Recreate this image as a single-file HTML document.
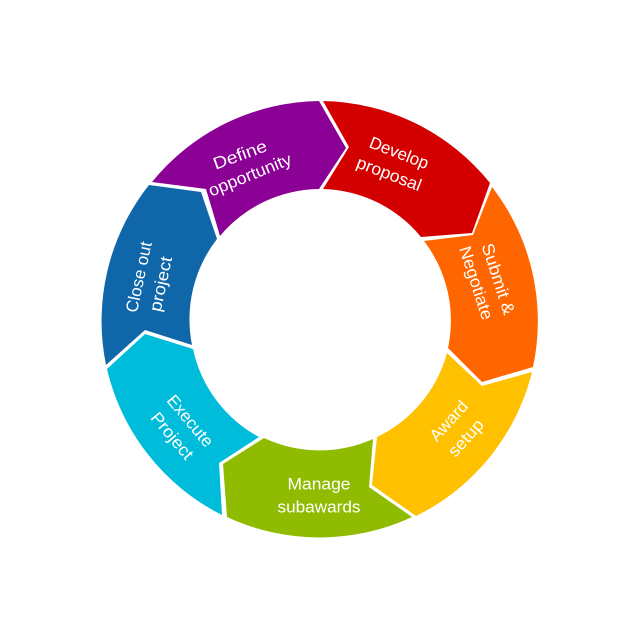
<!DOCTYPE html>
<html><head><meta charset="utf-8"><style>html,body{margin:0;padding:0;background:#fff}svg{display:block}text{font-family:"Liberation Sans",sans-serif;font-size:17px;fill:#fff;text-anchor:middle;dominant-baseline:central}</style></head><body>
<svg width="640" height="640" viewBox="0 0 640 640" xmlns="http://www.w3.org/2000/svg">
<rect width="640" height="640" fill="#fff"/>
<path fill="#8B0095" d="M152,182 A219,219 0 0 1 319,101 L346,148 L319,189 A131,131 0 0 0 220,236 L206,189 Z"/>
<path fill="#D40000" d="M323,101 A219,219 0 0 1 490,183 L472,233 L421,237 A131,131 0 0 0 323,189 L349,147 Z"/>
<path fill="#FF6600" d="M492,187 A219,219 0 0 1 533,367 L482,382 L448,348 A131,131 0 0 0 424,241 L473,235 Z"/>
<path fill="#FFC000" d="M532,372 A219,219 0 0 1 416,516 L372,485 L377,437 A131,131 0 0 0 447,353 L482,386 Z"/>
<path fill="#8FBC00" d="M412,517 A219,219 0 0 1 227,517 L223,464 L264,438 A131,131 0 0 0 373,439 L369,487 Z"/>
<path fill="#00BCDB" d="M222,515 A219,219 0 0 1 107,369 L145,334 L193,349 A131,131 0 0 0 259,437 L219,463 Z"/>
<path fill="#0F66A8" d="M149,185 L201,192 L217,239 A131,131 0 0 0 192,345 L145,330 L106,365 A219,219 0 0 1 149,185 Z"/>
<text transform="translate(240,155) rotate(-20)" textLength="56" lengthAdjust="spacingAndGlyphs">Define</text>
<text transform="translate(250,175) rotate(-22)" textLength="88" lengthAdjust="spacingAndGlyphs">opportunity</text>
<text transform="translate(399,153) rotate(21)" textLength="62" lengthAdjust="spacingAndGlyphs">Develop</text>
<text transform="translate(389,174) rotate(21)" textLength="68" lengthAdjust="spacingAndGlyphs">proposal</text>
<text transform="translate(498,279) rotate(72)" textLength="74" lengthAdjust="spacingAndGlyphs">Submit &amp;</text>
<text transform="translate(476,283) rotate(72)" textLength="76" lengthAdjust="spacingAndGlyphs">Negotiate</text>
<text transform="translate(449,421) rotate(-48)" textLength="48" lengthAdjust="spacingAndGlyphs">Award</text>
<text transform="translate(466,438) rotate(-48)" textLength="44" lengthAdjust="spacingAndGlyphs">setup</text>
<text x="319" y="484" textLength="63" lengthAdjust="spacingAndGlyphs">Manage</text>
<text x="319" y="507" textLength="83" lengthAdjust="spacingAndGlyphs">subawards</text>
<text transform="translate(190,421) rotate(50)" textLength="62" lengthAdjust="spacingAndGlyphs">Execute</text>
<text transform="translate(172,436) rotate(50)" textLength="56" lengthAdjust="spacingAndGlyphs">Project</text>
<text transform="translate(139,277) rotate(-78)" textLength="72" lengthAdjust="spacingAndGlyphs">Close out</text>
<text transform="translate(161,284) rotate(-78)" textLength="56" lengthAdjust="spacingAndGlyphs">project</text>
</svg>
</body></html>
